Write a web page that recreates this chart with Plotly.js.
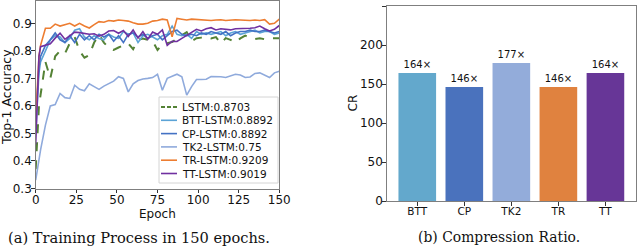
<!DOCTYPE html>
<html>
<head>
<meta charset="utf-8">
<script src="https://cdn.plot.ly/plotly-3.0.1.min.js"></script>
<style>html,body{margin:0;padding:0;background:#fff;}#chart{width:640px;height:248px;}</style>
</head>
<body>
<div id="chart"></div>
<script>
const epochs = [0,1,2,3,6,9,12,15,18,21,24,27,30,33,36,39,42,45,48,51,54,57,60,63,66,69,72,75,78,81,84,87,90,93,96,99,102,105,108,111,114,117,120,123,126,129,132,135,138,141,144,147,150];
const lstm = [0.37,0.48,0.60,0.64,0.76,0.70,0.78,0.80,0.79,0.828,0.85,0.80,0.775,0.785,0.83,0.858,0.83,0.81,0.803,0.812,0.82,0.827,0.806,0.84,0.845,0.84,0.835,0.803,0.825,0.828,0.832,0.845,0.855,0.868,0.835,0.846,0.848,0.85,0.845,0.85,0.827,0.846,0.84,0.83,0.845,0.855,0.848,0.843,0.846,0.842,0.845,0.845,0.846];
const bttLstm = [0.50,0.60,0.72,0.76,0.80,0.84,0.855,0.85,0.83,0.845,0.875,0.88,0.85,0.84,0.855,0.845,0.84,0.86,0.85,0.845,0.87,0.86,0.865,0.83,0.855,0.86,0.85,0.84,0.855,0.86,0.89,0.86,0.855,0.86,0.845,0.87,0.86,0.865,0.86,0.865,0.87,0.855,0.865,0.87,0.86,0.865,0.87,0.875,0.865,0.87,0.87,0.86,0.865];
const cpLstm = [0.55,0.65,0.74,0.78,0.82,0.84,0.865,0.84,0.83,0.855,0.83,0.86,0.84,0.855,0.84,0.86,0.85,0.86,0.835,0.855,0.83,0.86,0.865,0.85,0.86,0.845,0.855,0.86,0.84,0.855,0.87,0.875,0.86,0.855,0.86,0.855,0.865,0.86,0.87,0.865,0.86,0.87,0.855,0.865,0.87,0.87,0.875,0.87,0.87,0.875,0.87,0.865,0.87];
const tk2Lstm = [0.33,0.37,0.41,0.44,0.53,0.60,0.605,0.645,0.63,0.627,0.675,0.66,0.655,0.68,0.67,0.66,0.672,0.68,0.69,0.706,0.70,0.651,0.68,0.692,0.698,0.70,0.703,0.715,0.657,0.70,0.708,0.715,0.706,0.639,0.67,0.696,0.696,0.697,0.707,0.707,0.706,0.703,0.71,0.715,0.712,0.703,0.705,0.718,0.72,0.712,0.703,0.72,0.726];
const trLstm = [0.55,0.68,0.78,0.82,0.882,0.882,0.897,0.89,0.894,0.90,0.89,0.90,0.89,0.883,0.895,0.906,0.904,0.91,0.908,0.912,0.91,0.908,0.902,0.897,0.897,0.90,0.908,0.91,0.915,0.912,0.851,0.918,0.915,0.912,0.915,0.914,0.912,0.913,0.91,0.912,0.913,0.91,0.912,0.913,0.912,0.91,0.91,0.912,0.91,0.913,0.897,0.90,0.915];
const ttLstm = [0.46,0.62,0.78,0.815,0.82,0.826,0.846,0.864,0.842,0.855,0.868,0.866,0.864,0.86,0.862,0.853,0.86,0.872,0.874,0.864,0.874,0.852,0.876,0.846,0.87,0.842,0.868,0.86,0.876,0.82,0.835,0.834,0.845,0.855,0.865,0.878,0.872,0.88,0.884,0.876,0.88,0.878,0.876,0.88,0.88,0.882,0.882,0.884,0.89,0.88,0.872,0.878,0.892];

const seriesNames = ['LSTM:0.8703','BTT-LSTM:0.8892','CP-LSTM:0.8892','TK2-LSTM:0.75','TR-LSTM:0.9209','TT-LSTM:0.9019'];
const seriesColors = ['#548235','#5ba3d6','#4472c4','#8faadc','#ed7d31','#7030a0'];
const seriesDash = ['dash','solid','solid','solid','solid','solid'];
const seriesData = [lstm, bttLstm, cpLstm, tk2Lstm, trLstm, ttLstm];

const methods = ['BTT','CP','TK2','TR','TT'];
const ratios = [164,146,177,146,164];
const barColors = ['#63a8cc','#4a72bd','#93acda','#e0823f','#673697'];

const W = 640, H = 248;
const px = v => v / W;
const py = v => 1 - v / H;

const traces = [];
seriesData.forEach((d, i) => {
  traces.push({
    type: 'scatter', mode: 'lines', x: epochs, y: d, name: seriesNames[i],
    line: {color: seriesColors[i], width: i === 0 ? 2 : 1.6, dash: seriesDash[i]},
    xaxis: 'x', yaxis: 'y', showlegend: false, hoverinfo: 'skip'
  });
});
traces.push({
  type: 'bar', x: methods, y: ratios, xaxis: 'x2', yaxis: 'y2',
  marker: {color: barColors, line: {width: 0}},
  width: 0.8,
  texttemplate: '%{y}×', textposition: 'outside', cliponaxis: false,
  textfont: {family: 'DejaVu Sans', size: 10, color: '#111'},
  showlegend: false, hoverinfo: 'skip'
});

const shapes = [];
const annotations = [];
const legX0 = 159, legX1 = 278, legY0 = 97, legY1 = 183;
shapes.push({type: 'rect', xref: 'paper', yref: 'paper',
  x0: px(legX0), x1: px(legX1), y0: py(legY0), y1: py(legY1),
  line: {color: '#d4d4d4', width: 1}, fillcolor: 'rgba(255,255,255,0.85)', layer: 'above'});
seriesNames.forEach((n, i) => {
  const yc = 107 + i * 13.3;
  shapes.push({type: 'line', xref: 'paper', yref: 'paper',
    x0: px(161), x1: px(177), y0: py(yc), y1: py(yc),
    line: {color: seriesColors[i], width: i === 0 ? 2 : 1.6, dash: i === 0 ? '4px,2px' : 'solid'}, layer: 'above'});
  annotations.push({xref: 'paper', yref: 'paper', x: px(180), y: py(yc),
    xanchor: 'left', yanchor: 'middle', showarrow: false, text: n,
    font: {family: 'DejaVu Sans', size: 10.5, color: '#111'}});
});
// axis titles
annotations.push({xref: 'paper', yref: 'paper', x: px(157.5), y: py(214), xanchor: 'center', yanchor: 'middle',
  showarrow: false, text: 'Epoch', font: {family: 'DejaVu Sans', size: 12, color: '#111'}});
annotations.push({xref: 'paper', yref: 'paper', x: px(6), y: py(97), xanchor: 'center', yanchor: 'middle',
  showarrow: false, text: 'Top-1 Accuracy', textangle: -90, font: {family: 'DejaVu Sans', size: 12.5, color: '#111'}});
annotations.push({xref: 'paper', yref: 'paper', x: px(352), y: py(103.5), xanchor: 'center', yanchor: 'middle',
  showarrow: false, text: 'CR', textangle: -90, font: {family: 'DejaVu Sans', size: 12, color: '#111'}});
// captions
annotations.push({xref: 'paper', yref: 'paper', x: px(139), y: py(237), xanchor: 'center', yanchor: 'middle',
  showarrow: false, text: '(a) Training Process in 150 epochs.',
  font: {family: 'DejaVu Serif', size: 14.6, color: '#111'}});
annotations.push({xref: 'paper', yref: 'paper', x: px(499), y: py(237), xanchor: 'center', yanchor: 'middle',
  showarrow: false, text: '(b) Compression Ratio.',
  font: {family: 'DejaVu Serif', size: 13.9, color: '#111'}});

const axCommon = {
  showgrid: false, zeroline: false, showline: true, mirror: true,
  linecolor: '#7f7f7f', linewidth: 1, ticks: 'outside', ticklen: 3.5, tickwidth: 1,
  ticklabelstandoff: -3,
  tickcolor: '#333', tickfont: {family: 'DejaVu Sans', size: 12, color: '#111'}
};

const layout = {
  width: W, height: H, margin: {l: 0, r: 0, t: 0, b: 0},
  paper_bgcolor: '#fff', plot_bgcolor: '#fff', showlegend: false,
  font: {family: 'DejaVu Sans', color: '#111'},
  xaxis: Object.assign({}, axCommon, {
    domain: [px(35.7), px(279.3)], anchor: 'y', range: [0, 150],
    tickvals: [0,25,50,75,100,125,150]
  }),
  yaxis: Object.assign({}, axCommon, {
    domain: [py(188.5), py(1)], anchor: 'x', range: [0.3, 0.981],
    tickvals: [0.3,0.4,0.5,0.6,0.7,0.8,0.9], ticktext: ['0.3','0.4','0.5','0.6','0.7','0.8','0.9']
  }),
  xaxis2: Object.assign({}, axCommon, {
    domain: [px(386.7), px(636)], anchor: 'y2', range: [-0.65, 4.65],
    tickfont: {family: 'DejaVu Sans', size: 10.5, color: '#111'}
  }),
  yaxis2: Object.assign({}, axCommon, {
    domain: [py(201), py(6)], anchor: 'x2', range: [0, 250],
    tickvals: [0,50,100,150,200,250]
  }),
  shapes: shapes,
  annotations: annotations
};

Plotly.newPlot('chart', traces, layout, {staticPlot: true, displayModeBar: false});
</script>
</body>
</html>
